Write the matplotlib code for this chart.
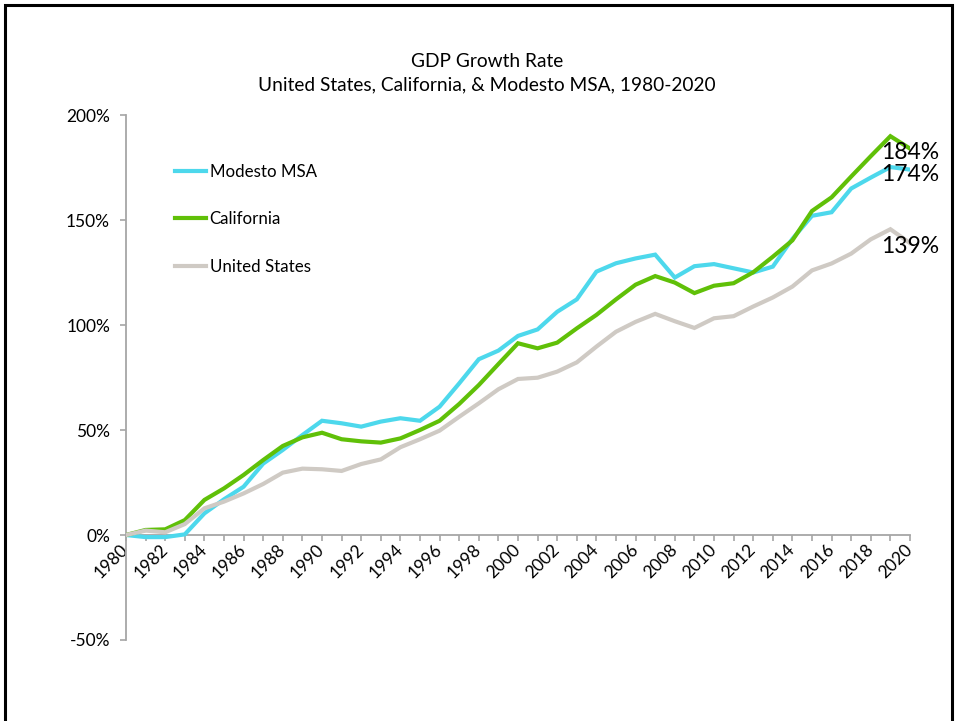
import matplotlib
matplotlib.use("Agg")
import matplotlib.pyplot as plt
from matplotlib.patches import Rectangle

plt.rcParams['font.family'] = ['Lato', 'DejaVu Sans']

years = list(range(1980, 2021))
modesto = [0, -1, -1, 0.3, 10.3, 17, 23, 34, 40.5, 47.6, 54.4, 53.2, 51.6, 54, 55.6, 54.4,
           61.1, 72.2, 83.7, 87.8, 94.8, 97.9, 106.3, 112.2, 125.4, 129.4, 131.7, 133.5,
           122.6, 128, 129, 127, 125, 127.8, 141, 152, 153.7, 165, 170.2, 175.2, 174]
california = [0, 2.4, 2.7, 7.1, 16.7, 22.2, 28.6, 35.7, 42.4, 46.5, 48.7, 45.6, 44.6, 44, 46, 50,
              54.4, 62.4, 71.4, 81.4, 91.3, 88.9, 91.6, 98.4, 104.8, 112.2, 119.2, 123.3,
              120.2, 115.2, 118.7, 119.9, 125.1, 132.5, 140.3, 154.3, 160.8, 170.7, 180.4, 189.9, 184]
united_states = [0, 2.1, 1.3, 5.2, 12.7, 15.9, 19.8, 24.3, 29.7, 31.6, 31.3, 30.5, 33.8, 36, 41.8,
                 45.6, 49.7, 56.3, 62.7, 69.4, 74.3, 74.9, 77.8, 82.2, 89.7, 96.8, 101.5, 105.3,
                 101.8, 98.6, 103.2, 104.2, 108.8, 113.1, 118.3, 126, 129.3, 134, 140.8, 145.6, 139]

series_names = ["Modesto MSA", "California", "United States"]
series_values = [modesto, california, united_states]
series_colors = ["#4DD8EC", "#60C008", "#CFCAC4"]

title = "GDP Growth Rate\nUnited States, California, & Modesto MSA, 1980-2020"
y_ticks = [-50, 0, 50, 100, 150, 200]

W, H = 960, 721
fig = plt.figure(figsize=(W / 100, H / 100), dpi=100)
ax = fig.add_axes([126 / W, 1 - 640 / H, (910 - 126) / W, (640 - 115) / H])

for s in ['top', 'right']:
    ax.spines[s].set_visible(False)
ax.spines['bottom'].set_position(('data', 0))
for s in ['left', 'bottom']:
    ax.spines[s].set_color('#A6A6A6')
    ax.spines[s].set_linewidth(1.3)

for name, vals, col in zip(series_names, series_values, series_colors):
    ax.plot(years, vals, color=col, lw=3.0, label=name, solid_joinstyle='miter', zorder=3)

# end labels
for vals, dy in zip(series_values, [5, 4, 3]):
    ax.annotate(f"{vals[-1]:.0f}%", xy=(years[-1], vals[-1]), xytext=(0, -dy),
                textcoords='offset pixels', ha='center', va='center', fontsize=16.5,
                color='black', zorder=5)

ax.set_xlim(1980, 2020)
ax.set_ylim(-50, 200)
ax.set_yticks(y_ticks)
ax.set_yticklabels([f"{v}%" for v in y_ticks])
ax.set_xticks(years)
ax.tick_params(axis='both', colors='#A6A6A6', length=4.5, width=1.2, labelcolor='black',
               labelsize=12.5)
ax.tick_params(axis='y', pad=7)
ax.tick_params(axis='x', pad=4, direction='out')
ax.set_xticklabels([str(y) if (y - 1980) % 2 == 0 else "" for y in years],
                   rotation=45, ha='right', va='center', rotation_mode='anchor')

leg = ax.legend(loc='upper left', bbox_to_anchor=(175 / W, 1 - 164 / H),
                bbox_transform=fig.transFigure, frameon=False, handlelength=1.8,
                handletextpad=0.25, labelspacing=1.85, borderpad=0, borderaxespad=0,
                fontsize=12.2)

fig.text(487 / W, 1 - 73 / H, title, ha='center', va='center', fontsize=13.8,
         linespacing=1.45)

fig.add_artist(Rectangle((5 / W, -0.1), (952 - 5) / W, 1.1 - 5 / H, transform=fig.transFigure,
                         fill=False, edgecolor='black', lw=2.2))

fig.savefig("out.png", dpi=100)
